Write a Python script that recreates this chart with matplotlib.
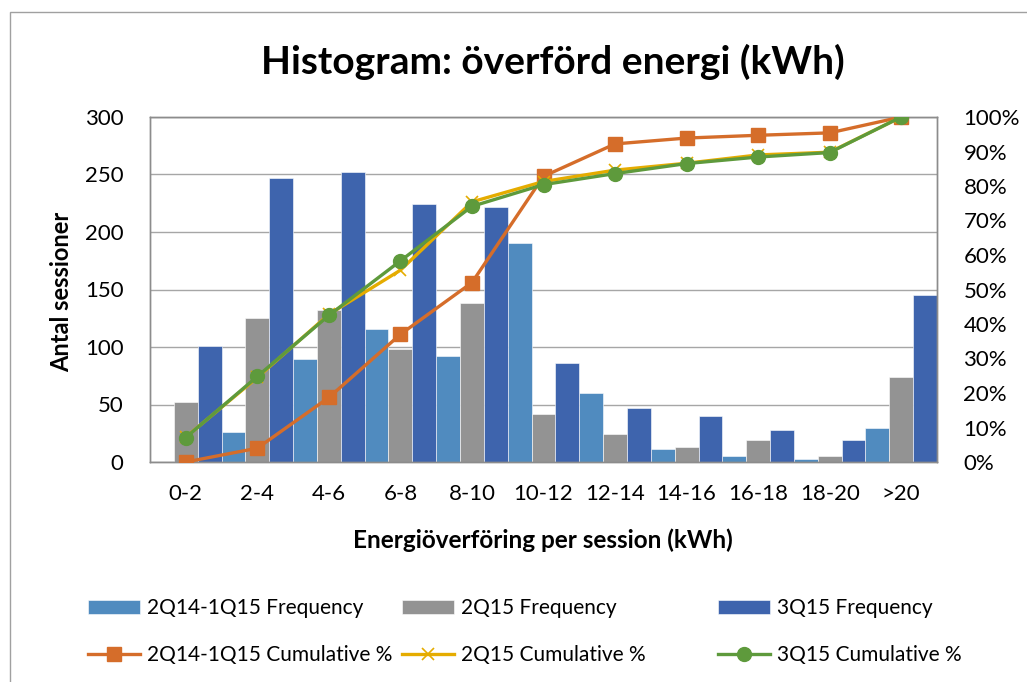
import matplotlib
matplotlib.use("Agg")
import matplotlib.pyplot as plt
import matplotlib.patches as mpatches
import numpy as np
from matplotlib.ticker import FuncFormatter, MultipleLocator

plt.rcParams['font.family'] = ['Lato', 'DejaVu Sans']

categories = ["0-2", "2-4", "4-6", "6-8", "8-10", "10-12", "12-14", "14-16", "16-18", "18-20", ">20"]
freq_2q14_1q15 = [0, 26, 90, 116, 92, 190, 60, 11, 5, 3, 30]
freq_2q15 = [52, 125, 132, 98, 138, 42, 24, 13, 19, 5, 74]
freq_3q15 = [101, 247, 252, 224, 222, 86, 47, 40, 28, 19, 145]
cum_2q14_1q15 = [0, 4.0, 18.7, 37.0, 52.0, 82.8, 92.2, 93.9, 94.7, 95.4, 100]
cum_2q15 = [7.2, 24.5, 42.8, 55.6, 75.4, 81.3, 84.6, 86.6, 89.0, 89.8, 100]
cum_3q15 = [7.1, 24.8, 42.5, 58.3, 74.1, 80.4, 83.6, 86.5, 88.4, 89.7, 100]

c_lb = '#508BBF'
c_gray = '#939393'
c_db = '#3E64AD'
c_or = '#D56D2A'
c_ye = '#E5AC00'
c_gr = '#5E9A3C'

W, H = 1027, 682
fig = plt.figure(figsize=(W / 100, H / 100), dpi=100)
ax = fig.add_axes([150 / W, 1 - 462 / H, (937 - 150) / W, (462 - 117) / H])

x = np.arange(len(categories))
w = 1 / 3
b1 = ax.bar(x - w, freq_2q14_1q15, w, color=c_lb, edgecolor='white', linewidth=0.4, zorder=2)
b2 = ax.bar(x, freq_2q15, w, color=c_gray, edgecolor='white', linewidth=0.4, zorder=2)
b3 = ax.bar(x + w, freq_3q15, w, color=c_db, edgecolor='white', linewidth=0.4, zorder=2)
ax.set_xlim(-0.5, len(categories) - 0.5)
ax.set_ylim(0, 300)
ax.yaxis.set_major_locator(MultipleLocator(50))
ax.grid(axis='y', color='#A6A6A6', linewidth=1.0, zorder=0)
ax.set_axisbelow(True)
ax.set_xticks(x)
ax.set_xticklabels(categories)
ax.tick_params(axis='both', length=0, labelsize=16)
ax.tick_params(axis='y', pad=19)
ax.tick_params(axis='x', pad=16)
for s in ax.spines.values():
    s.set_color('#8C8C8C')
    s.set_linewidth(1.0)

ax2 = ax.twinx()
ax2.set_ylim(0, 100)
ax2.yaxis.set_major_locator(MultipleLocator(10))
ax2.yaxis.set_major_formatter(FuncFormatter(lambda v, p: f"{int(round(v))}%"))
ax2.tick_params(axis='y', length=0, labelsize=16, pad=19)
for s in ax2.spines.values():
    s.set_color('#8C8C8C')
    s.set_linewidth(1.0)

l1, = ax2.plot(x, cum_2q14_1q15, color=c_or, linewidth=2.4, marker='s', markersize=10, zorder=3)
l2, = ax2.plot(x, cum_2q15, color=c_ye, linewidth=2.4, marker='x', markersize=9, markeredgewidth=1.2, zorder=4)
l3, = ax2.plot(x, cum_3q15, color=c_gr, linewidth=2.4, marker='o', markersize=10, zorder=5)

fig.text(553 / W, 1 - 62 / H, "Histogram: överförd energi (kWh)", fontsize=28, fontweight='bold',
         ha='center', va='center')
fig.text(62 / W, 1 - 292 / H, "Antal sessioner", fontsize=17, fontweight='bold', rotation=90,
         ha='center', va='center')
fig.text(543 / W, 1 - 540 / H, "Energiöverföring per session (kWh)", fontsize=17.5, fontweight='bold',
         ha='center', va='center')

labels_col = [("2Q14-1Q15 Frequency", b1, "2Q14-1Q15 Cumulative %", l1, 88),
              ("2Q15 Frequency", b2, "2Q15 Cumulative %", l2, 402),
              ("3Q15 Frequency", b3, "3Q15 Cumulative %", l3, 718)]
for lab_b, hb, lab_l, hl, xpos in labels_col:
    fig.legend([hb, hl], [lab_b, lab_l], loc='center left',
               bbox_to_anchor=(xpos / W, 1 - 631.5 / H), frameon=False, fontsize=15,
               borderpad=0, borderaxespad=0, handlelength=2.5, handletextpad=0.33,
               labelspacing=1.28)

border = mpatches.Rectangle((10 / W, -0.1), 1.2, (H - 12) / H + 0.1, transform=fig.transFigure,
                            fill=False, edgecolor='#A0A0A0', linewidth=1.0)
fig.patches.append(border)

fig.savefig("out.png", dpi=100)
